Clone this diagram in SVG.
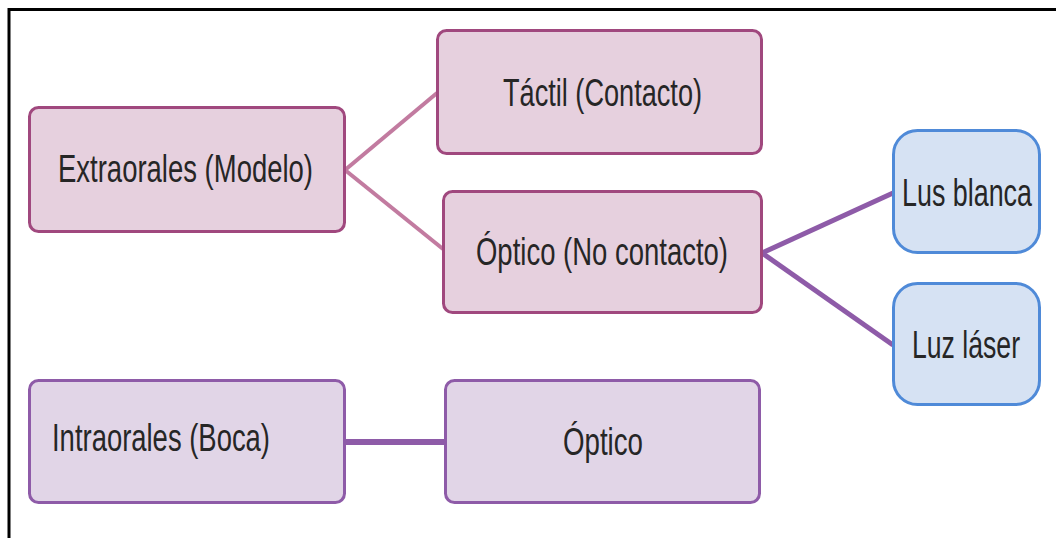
<svg xmlns="http://www.w3.org/2000/svg" width="1056" height="538" viewBox="0 0 1056 538">
<style>
  .lbl { font-family: "Liberation Sans", Arial, sans-serif; font-size: 38px; fill: #262626; }
  .mag { fill: #e6d0de; stroke: #a0487e; stroke-width: 3; }
  .pur { fill: #e1d5e7; stroke: #8e5ba8; stroke-width: 3; }
  .blu { fill: #d6e2f3; stroke: #4f8ad8; stroke-width: 3; }
  .c1 { stroke: #c27ba0; stroke-width: 4; fill: none; }
  .c2 { stroke: #8e5ba8; stroke-width: 5; fill: none; }
  .c3 { stroke: #8e5ba8; stroke-width: 6; fill: none; }
</style>
<rect x="0" y="0" width="1056" height="538" fill="#ffffff"/>
<path d="M9,538 V9.5 H1056" fill="none" stroke="#000000" stroke-width="3"/>
<g id="connectors">
  <line class="c1" x1="345" y1="170" x2="437" y2="93"/>
  <line class="c1" x1="345" y1="170" x2="443" y2="249"/>
  <line class="c2" x1="762" y1="253" x2="893" y2="193"/>
  <line class="c2" x1="762" y1="253" x2="893" y2="345"/>
  <line class="c3" x1="345" y1="442" x2="445" y2="442"/>
</g>
<g id="extraorales">
  <rect class="mag" x="29.5" y="107.5" width="315" height="124" rx="9"/>
  <text class="lbl" x="58" y="182" textLength="255" lengthAdjust="spacingAndGlyphs">Extraorales (Modelo)</text>
</g>
<g id="tactil">
  <rect class="mag" x="437.5" y="30.5" width="324" height="123" rx="9"/>
  <text class="lbl" x="503" y="106" textLength="199" lengthAdjust="spacingAndGlyphs">Táctil (Contacto)</text>
</g>
<g id="optico-nc">
  <rect class="mag" x="443.5" y="191.5" width="318" height="121" rx="9"/>
  <text class="lbl" x="476" y="265" textLength="252" lengthAdjust="spacingAndGlyphs">Óptico (No contacto)</text>
</g>
<g id="lus-blanca">
  <rect class="blu" x="893.5" y="130.5" width="146" height="122" rx="24"/>
  <text class="lbl" x="902" y="206" textLength="130" lengthAdjust="spacingAndGlyphs">Lus blanca</text>
</g>
<g id="luz-laser">
  <rect class="blu" x="893.5" y="283.5" width="146" height="121" rx="24"/>
  <text class="lbl" x="912" y="358" textLength="108" lengthAdjust="spacingAndGlyphs">Luz láser</text>
</g>
<g id="intraorales">
  <rect class="pur" x="29.5" y="380.5" width="315" height="122" rx="9"/>
  <text class="lbl" x="52" y="451" textLength="218" lengthAdjust="spacingAndGlyphs">Intraorales (Boca)</text>
</g>
<g id="optico">
  <rect class="pur" x="445.5" y="380.5" width="314" height="122" rx="9"/>
  <text class="lbl" x="563" y="455" textLength="80" lengthAdjust="spacingAndGlyphs">Óptico</text>
</g>
</svg>
